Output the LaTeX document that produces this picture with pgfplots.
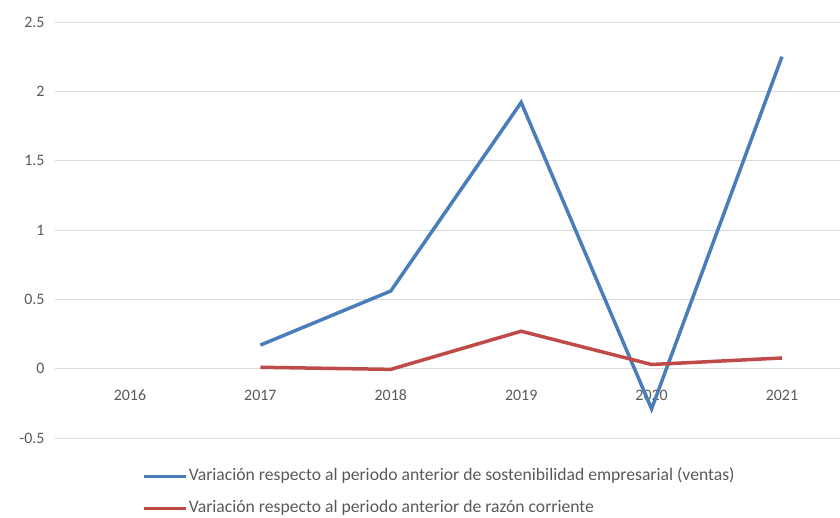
\documentclass[border=0pt]{standalone}
\usepackage{fontspec}
\setmainfont{Carlito}
\usepackage{pgfplots}
\pgfplotsset{compat=1.18}

\definecolor{serieblue}{RGB}{74,126,187}
\definecolor{seriered}{RGB}{190,75,72}
\definecolor{gridgray}{RGB}{217,217,217}
\definecolor{labelgray}{RGB}{89,89,89}

\begin{document}
\begin{tikzpicture}
\useasboundingbox (-55bp,-80bp) rectangle (785bp,438bp);
\begin{axis}[
    at={(0,0)}, anchor=south west,
    scale only axis,
    width=785bp, height=416bp,
    xmin=-0.575, xmax=5.445,
    ymin=-0.5, ymax=2.5,
    axis x line=middle,
    axis y line=left,
    x axis line style={gridgray, line width=0.8bp, -},
    y axis line style={draw=none},
    major tick length=0,
    xtick={0,1,2,3,4,5},
    xticklabels={2016,2017,2018,2019,2020,2021},
    ytick={-0.5,0,0.5,1,1.5,2,2.5},
    yticklabels={-0.5,0,0.5,1,1.5,2,2.5},
    ymajorgrids,
    grid style={gridgray, line width=0.8bp},
    xticklabel style={font=\fontsize{16}{18}\selectfont, text=labelgray,
        anchor=north, text height=11bp, text depth=0bp, yshift=-17bp},
    yticklabel style={font=\fontsize{16}{18}\selectfont, text=labelgray, xshift=-7bp},
    legend cell align=left,
    legend style={
        at={(0.111,-0.073)}, anchor=north west,
        draw=none, fill=none, inner sep=0pt,
        font=\fontsize{17.7}{19}\selectfont, text=labelgray,
        row sep=16bp,
        nodes={inner xsep=1bp, inner ysep=0pt, text height=12bp, text depth=4bp},
    },
    legend image code/.code={\draw[#1] (0bp,0bp) -- (42bp,0bp);},
]
\addplot[serieblue, line width=3.5bp] coordinates {
    (1,0.17) (2,0.56) (3,1.92) (4,-0.29) (5,2.25)
};
\addlegendentry{Variación respecto al periodo anterior de sostenibilidad empresarial (ventas)}
\addplot[seriered, line width=3.5bp] coordinates {
    (1,0.01) (2,-0.005) (3,0.27) (4,0.03) (5,0.077)
};
\addlegendentry{Variación respecto al periodo anterior de razón corriente}
\end{axis}
\end{tikzpicture}
\end{document}
